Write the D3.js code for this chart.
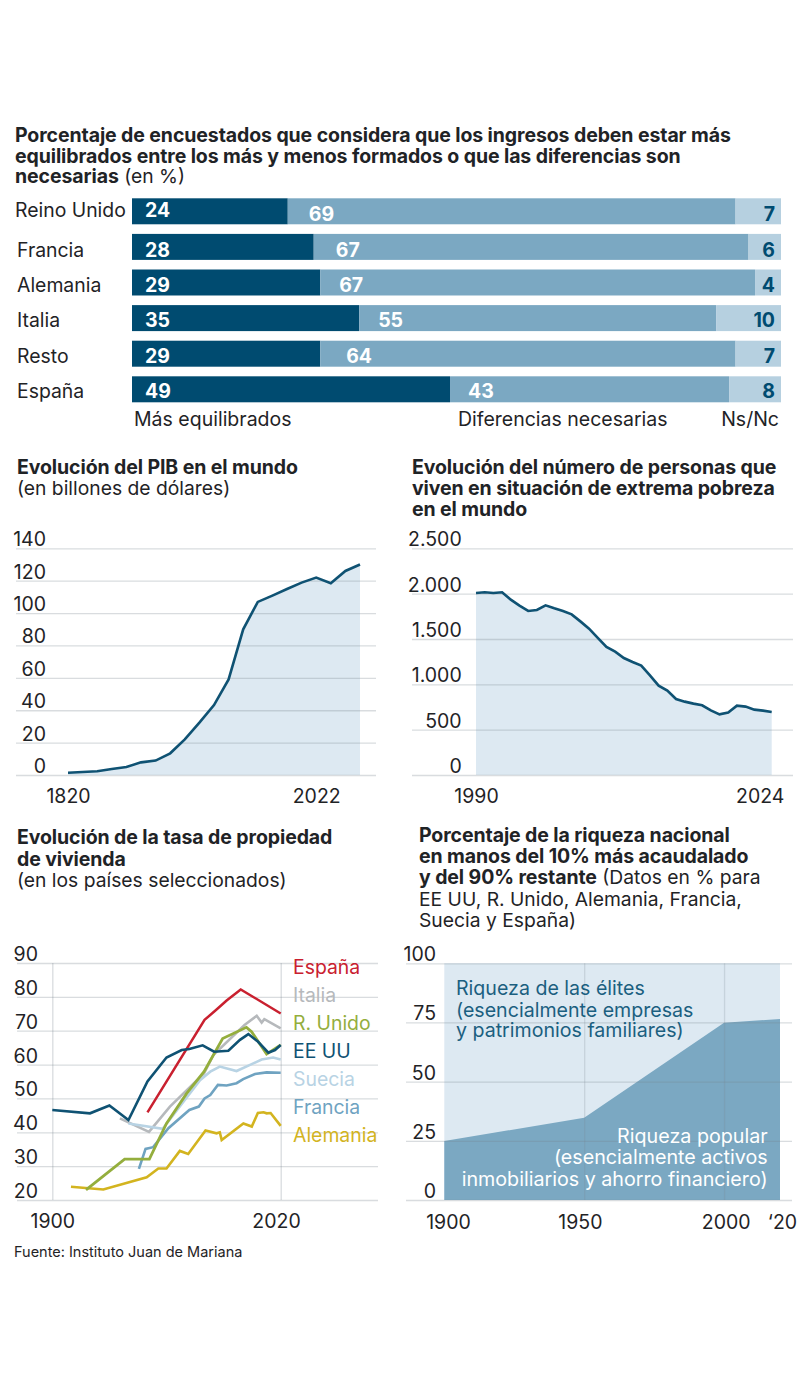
<!DOCTYPE html>
<html>
<head>
<meta charset="utf-8">
<script src="https://cdn.jsdelivr.net/npm/d3@7"></script>
<style>
  body { margin: 0; background: #fff; }
  svg { display: block; }
  text { font-family: Inter, "Noto Sans", sans-serif; fill: #1f2326; }
  .title { font-size: 19.5px; font-weight: 700; letter-spacing: -0.1px; }
  .sub { font-size: 19.3px; font-weight: 400; }
  .tick text { font-size: 19.5px; font-family: Inter, sans-serif; fill: #1f2326; }
  .grid .domain { display: none; }
  .grid line { stroke: #78828c; stroke-opacity: 0.28; stroke-width: 1.3; }
</style>
</head>
<body>
<script>
// encuesta
var countries = ['Reino Unido', 'Francia', 'Alemania', 'Italia', 'Resto', 'España'];
var equilibrados = [24, 28, 29, 35, 29, 49];
var diferencias = [69, 67, 67, 55, 64, 43];
var nsnc = [7, 6, 4, 10, 7, 8];

// PIB
var pibLabels = ['1820', '2022'];
var pibLabelSteps = [0, 17];
var pibSteps = [0, 1, 2, 3, 4, 5, 6, 7, 8, 9, 10, 11, 12, 13, 14, 15, 16, 17, 18, 19, 20];
var pibValues = [1.4, 1.9, 2.3, 3.7, 4.9, 7.8, 8.9, 13.4, 22, 32.3, 43.2, 59, 90, 106.9, 110.8, 114.9, 118.8, 121.9, 118.4, 126, 130];
var pibTicks = [0, 20, 40, 60, 80, 100, 120, 140];

// pobreza
var pobrezaYears = [1990, 1991, 1992, 1993, 1994, 1995, 1996, 1997, 1998, 1999, 2000, 2001, 2002, 2003, 2004, 2005, 2006, 2007, 2008, 2009, 2010, 2011, 2012, 2013, 2014, 2015, 2016, 2017, 2018, 2019, 2020, 2021, 2022, 2023, 2024];
var pobrezaValues = [2007, 2015, 2007, 2015, 1934, 1868, 1809, 1820, 1871, 1838, 1809, 1771, 1694, 1614, 1511, 1412, 1360, 1290, 1246, 1206, 1099, 985, 930, 838, 809, 787, 769, 713, 669, 688, 765, 754, 721, 710, 695];
var pobrezaTicks = [0, 500, 1000, 1500, 2000, 2500];

// vivienda
var viviendaTicks = [20, 30, 40, 50, 60, 70, 80, 90];
var italiaYears = [1935.5, 1950.8, 1961.8, 1979.7, 1984.6, 2001, 2007.4, 2010, 2011.4, 2020];
var italiaValues = [44.1, 40.1, 47.6, 57.4, 62.8, 71.7, 74.4, 72.4, 73.4, 70.7];
var suedeYears = [1940, 1958, 1967, 1977.6, 1983, 1988, 1996.8, 2003.9, 2010, 2016, 2020];
var suedeValues = [42.6, 41, 47.6, 55.4, 57.9, 59.4, 58.1, 59.9, 61.5, 62.1, 61.5];
var franciaYears = [1945.5, 1949, 1953, 1961, 1972, 1977, 1980, 1983, 1987, 1991.6, 1996.8, 2000.3, 2006.5, 2012.6, 2020];
var franciaValues = [29.2, 35.1, 35.6, 41.2, 46.6, 47.6, 50, 51, 54, 53.8, 54.5, 55.7, 57.2, 57.7, 57.6];
var alemaniaYears = [1909.8, 1926.8, 1949.6, 1955.7, 1960, 1967, 1971.4, 1980.5, 1986.3, 1988, 1989, 2000.4, 2004.8, 2008, 2011, 2012.6, 2014.7, 2020];
var alemaniaValues = [23.9, 23.1, 26.7, 29.3, 29.3, 34.5, 33.6, 40.5, 39.7, 40, 37.7, 42.6, 41.7, 45.7, 45.9, 45.6, 45.7, 41.9];
var unidoYears = [1917.7, 1938, 1951, 1960, 1970.6, 1979.7, 1989.5, 2002, 2004.7, 2012.6, 2020];
var unidoValues = [23, 32.1, 32.1, 42.6, 51.5, 57.9, 67.7, 71, 69.7, 63.1, 65.8];
var espanaYears = [1950, 1980, 1986, 1991.6, 1999, 2020];
var espanaValues = [45.9, 73.2, 76.1, 78.9, 82.2, 75.1];
var eeuuYears = [1900, 1919.8, 1930, 1940, 1950, 1960, 1968, 1972, 1979, 1985, 1992.5, 1998.6, 2003, 2008, 2013.5, 2017, 2020];
var eeuuValues = [46.6, 45.6, 47.9, 43.6, 55, 62.1, 64.3, 64.6, 65.7, 63.8, 64.1, 67.3, 69, 66.8, 63.5, 64.3, 65.8];

// riqueza
var riquezaYears = [1900, 1950, 2000, 2020];
var riquezaPopular = [24.9, 34.8, 74.9, 76.5];
var riquezaTicks = [0, 25, 50, 75, 100];

var c = {
  dark: '#004b70', mid: '#7ba8c2', light: '#b6d0e0', line: '#0f5273', area: '#dde9f2',
  red: '#c9202f', grey: '#b6b9bc', green: '#94ae3d', suecia: '#b8d3e4', francia: '#6fa3c1', alemania: '#d3b41f'
};

var fmtEs = d3.formatLocale({ decimal: ',', thousands: '.', grouping: [3], currency: ['', '€'] }).format(',d');

var svg = d3.select('body').append('svg')
  .attr('width', 800)
  .attr('height', 1376);

function lines(x, ys, parts) {
  // parts: one array of [text, bold] per line
  parts.forEach(function(p, i) {
    var t = svg.append('text').attr('x', x).attr('y', ys[i]);
    p.forEach(function(s) {
      t.append('tspan')
        .attr('class', s[1] ? 'title' : 'sub')
        .text(s[0]);
    });
  });
}

function yAxis(scale, ticks, x1, x2, labelX, fmt, dy) {
  var g = svg.append('g')
    .attr('class', 'grid')
    .attr('transform', 'translate(' + x1 + ',0)')
    .call(d3.axisRight(scale).tickValues(ticks).tickSize(x2 - x1).tickFormat(fmt || d3.format('d')));
  g.selectAll('.tick text')
    .attr('x', labelX - x1)
    .attr('dy', null)
    .attr('y', dy)
    .style('text-anchor', 'end')
    .style('dominant-baseline', 'auto');
  return g;
}

function xLabels(scale, ticks, labels, y, shifts) {
  var g = svg.append('g')
    .attr('transform', 'translate(0,' + y + ')')
    .call(d3.axisBottom(scale).tickValues(ticks).tickSize(0).tickFormat(function(d, i) { return labels[i]; }));
  g.select('.domain').remove();
  g.selectAll('.tick text')
    .attr('y', 0)
    .attr('dy', null)
    .attr('dx', function(d, i) { return shifts[i]; });
}

// --- barras ---
lines(15, [141.7, 162.7, 182.7], [
  [['Porcentaje de encuestados que considera que los ingresos deben estar más', true]],
  [['equilibrados entre los más y menos formados o que las diferencias son', true]],
  [['necesarias', true], [' (en %)', false]]
]);

var bx = d3.scaleLinear().domain([0, 100]).range([132, 781]);
var by = d3.scaleBand().domain(countries).range([198.3, 402.3]).paddingInner(0.27).paddingOuter(0);
var midDx = [21, 22, 19, 19, 26, 18];
var rowBase = [217, 256.5, 291.7, 327, 362.5, 397.5];
var sideBase = [220.7, 256.5, 291.7, 327, 362.5, 397.5];
var midBase = [220.7, 256.5, 291.7, 327, 362.5, 397.5];

var rows = svg.append('g').selectAll('g')
  .data(countries)
  .enter().append('g');

rows.append('rect')
  .attr('x', bx(0))
  .attr('y', function(d) { return by(d); })
  .attr('height', by.bandwidth())
  .attr('width', function(d, i) { return bx(equilibrados[i]) - bx(0); })
  .attr('fill', c.dark);
rows.append('rect')
  .attr('x', function(d, i) { return bx(equilibrados[i]); })
  .attr('y', function(d) { return by(d); })
  .attr('height', by.bandwidth())
  .attr('width', function(d, i) { return bx(equilibrados[i] + diferencias[i]) - bx(equilibrados[i]); })
  .attr('fill', c.mid);
rows.append('rect')
  .attr('x', function(d, i) { return bx(equilibrados[i] + diferencias[i]); })
  .attr('y', function(d) { return by(d); })
  .attr('height', by.bandwidth())
  .attr('width', function(d, i) { return bx(100) - bx(equilibrados[i] + diferencias[i]); })
  .attr('fill', c.light);

rows.append('text')
  .attr('x', function(d, i) { return i == 0 ? 15 : 17; })
  .attr('y', function(d, i) { return rowBase[i]; })
  .style('font-size', '19.4px')
  .text(function(d) { return d; });
rows.append('text')
  .attr('x', 145)
  .attr('y', function(d, i) { return rowBase[i]; })
  .style('font-size', '19.5px').style('font-weight', 700).style('fill', '#fff')
  .text(function(d, i) { return equilibrados[i]; });
rows.append('text')
  .attr('x', function(d, i) { return bx(equilibrados[i]) + midDx[i]; })
  .attr('y', function(d, i) { return midBase[i]; })
  .style('font-size', '19.5px').style('font-weight', 700).style('fill', '#fff')
  .text(function(d, i) { return diferencias[i]; });
rows.append('text')
  .attr('x', 775)
  .attr('y', function(d, i) { return sideBase[i]; })
  .style('font-size', '19.5px').style('font-weight', 700).style('fill', c.dark).style('text-anchor', 'end')
  .text(function(d, i) { return nsnc[i]; });

svg.append('text').attr('x', 134).attr('y', 426).style('font-size', '19.5px').text('Más equilibrados');
svg.append('text').attr('x', 458).attr('y', 426).style('font-size', '19.5px').text('Diferencias necesarias');
svg.append('text').attr('x', 779).attr('y', 426).style('font-size', '19.5px').style('text-anchor', 'end').text('Ns/Nc');

// --- PIB ---
lines(17, [474, 495], [
  [['Evolución del PIB en el mundo', true]],
  [['(en billones de dólares)', false]]
]);
var px = d3.scaleLinear().domain([0, 20]).range([68, 360]);
var py = d3.scaleLinear().domain([0, 140]).range([775, 548.3]);
svg.append('path')
  .datum(pibSteps)
  .attr('fill', c.area)
  .attr('d', d3.area().x(function(d) { return px(d); }).y0(py(0)).y1(function(d, i) { return py(pibValues[i]); }));
yAxis(py, pibTicks, 16, 376, 46, null, -2.5);
svg.append('path')
  .datum(pibSteps)
  .attr('fill', 'none').attr('stroke', c.line).attr('stroke-width', 2.6)
  .attr('d', d3.line().x(function(d) { return px(d); }).y(function(d, i) { return py(pibValues[i]); }));
xLabels(px, pibLabelSteps, pibLabels, 803, [0, 0]);

// --- pobreza ---
lines(412, [474, 495, 516], [
  [['Evolución del número de personas que', true]],
  [['viven en situación de extrema pobreza', true]],
  [['en el mundo', true]]
]);
var qx = d3.scaleLinear().domain([1990, 2024]).range([476, 771.7]);
var qy = d3.scaleLinear().domain([0, 2500]).range([775, 548.3]);
svg.append('path')
  .datum(pobrezaYears)
  .attr('fill', c.area)
  .attr('d', d3.area().x(function(d) { return qx(d); }).y0(qy(0)).y1(function(d, i) { return qy(pobrezaValues[i]); }));
yAxis(qy, pobrezaTicks, 412, 793, 461.7, fmtEs, -2.5);
svg.append('path')
  .datum(pobrezaYears)
  .attr('fill', 'none').attr('stroke', c.line).attr('stroke-width', 2.6)
  .attr('d', d3.line().x(function(d) { return qx(d); }).y(function(d, i) { return qy(pobrezaValues[i]); }));
xLabels(qx, [1990, 2024], ['1990', '2024'], 803, [0, -12]);

// --- vivienda ---
lines(17, [844, 866, 887], [
  [['Evolución de la tasa de propiedad', true]],
  [['de vivienda', true]],
  [['(en los países seleccionados)', false]]
]);
var vx = d3.scaleLinear().domain([1900, 2020]).range([52.3, 280.7]);
var vy = d3.scaleLinear().domain([20, 90]).range([1200, 963]);
yAxis(vy, viviendaTicks, 17, 378, 38, null, -2.5);
svg.append('g').attr('class', 'grid')
  .attr('transform', 'translate(0,1200)')
  .call(d3.axisTop(vx).tickValues([1900, 2020]).tickSize(237).tickFormat(''));
xLabels(vx, [1900, 2020], ['1900', '2020'], 1227.7, [0, -4.7]);

var vivienda = [
  { years: italiaYears, values: italiaValues, color: c.grey, w: 2.6 },
  { years: suedeYears, values: suedeValues, color: c.suecia, w: 2.6 },
  { years: franciaYears, values: franciaValues, color: c.francia, w: 2.6 },
  { years: alemaniaYears, values: alemaniaValues, color: c.alemania, w: 2.6 },
  { years: unidoYears, values: unidoValues, color: c.green, w: 2.8 },
  { years: espanaYears, values: espanaValues, color: c.red, w: 2.5 },
  { years: eeuuYears, values: eeuuValues, color: c.line, w: 2.6 }
];
svg.append('g').selectAll('path')
  .data(vivienda)
  .enter().append('path')
    .attr('fill', 'none')
    .attr('stroke', function(d) { return d.color; })
    .attr('stroke-width', function(d) { return d.w; })
    .attr('d', function(d) {
      return d3.line().x(function(y) { return vx(y); }).y(function(y, i) { return vy(d.values[i]); })(d.years);
    });

var vivLabels = ['España', 'Italia', 'R. Unido', 'EE UU', 'Suecia', 'Francia', 'Alemania'];
var vivColors = [c.red, c.grey, c.green, c.line, c.suecia, c.francia, c.alemania];
var vivBase = [974.3, 1002, 1030, 1058, 1086, 1114, 1142];
svg.append('g').selectAll('text')
  .data(vivLabels)
  .enter().append('text')
    .attr('x', 293)
    .attr('y', function(d, i) { return vivBase[i]; })
    .style('font-size', '19.4px')
    .style('fill', function(d, i) { return vivColors[i]; })
    .text(function(d) { return d; });

svg.append('text').attr('x', 14).attr('y', 1256.7).style('font-size', '14.5px').text('Fuente: Instituto Juan de Mariana');

// --- riqueza ---
lines(419, [841.7, 863, 884.3, 906, 927], [
  [['Porcentaje de la riqueza nacional', true]],
  [['en manos del 10% más acaudalado', true]],
  [['y del 90% restante', true], [' (Datos en % para', false]],
  [['EE UU, R. Unido, Alemania, Francia,', false]],
  [['Suecia y España)', false]]
]);
var rx = d3.scaleLinear().domain([1900, 2020]).range([444.3, 780]);
var ry = d3.scaleLinear().domain([0, 100]).range([1200, 963.3]);
svg.append('path')
  .datum(riquezaYears)
  .attr('fill', c.area)
  .attr('d', d3.area().x(function(d) { return rx(d); }).y0(ry(0)).y1(ry(100)));
svg.append('path')
  .datum(riquezaYears)
  .attr('fill', c.mid)
  .attr('d', d3.area().x(function(d) { return rx(d); }).y0(ry(0)).y1(function(d, i) { return ry(riquezaPopular[i]); }));
yAxis(ry, riquezaTicks, 406, 792, 436, null, -2.5);
svg.append('g').attr('class', 'grid')
  .attr('transform', 'translate(0,1200)')
  .call(d3.axisTop(rx).tickValues([1950, 2000]).tickSize(236.7).tickFormat(''))
  .selectAll('line').style('stroke-opacity', 0.22);
xLabels(rx, [1900, 1950, 2000, 2020], ['1900', '1950', '2000', '‘20'], 1229, [3.7, -4.3, 1.7, 2]);

var eliteText = ['Riqueza de las élites', '(esencialmente empresas', 'y patrimonios familiares)'];
var eliteBase = [995, 1016.7, 1037.3];
svg.append('g').selectAll('text')
  .data(eliteText)
  .enter().append('text')
    .attr('x', 456)
    .attr('y', function(d, i) { return eliteBase[i]; })
    .style('font-size', '19.6px').style('fill', '#1b5f80')
    .text(function(d) { return d; });
var popularText = ['Riqueza popular', '(esencialmente activos', 'inmobiliarios y ahorro financiero)'];
var popularBase = [1143.3, 1164.3, 1186];
svg.append('g').selectAll('text')
  .data(popularText)
  .enter().append('text')
    .attr('x', 767.7)
    .attr('y', function(d, i) { return popularBase[i]; })
    .style('font-size', '19.7px').style('fill', '#fff').style('text-anchor', 'end')
    .text(function(d) { return d; });
</script>
</body>
</html>
